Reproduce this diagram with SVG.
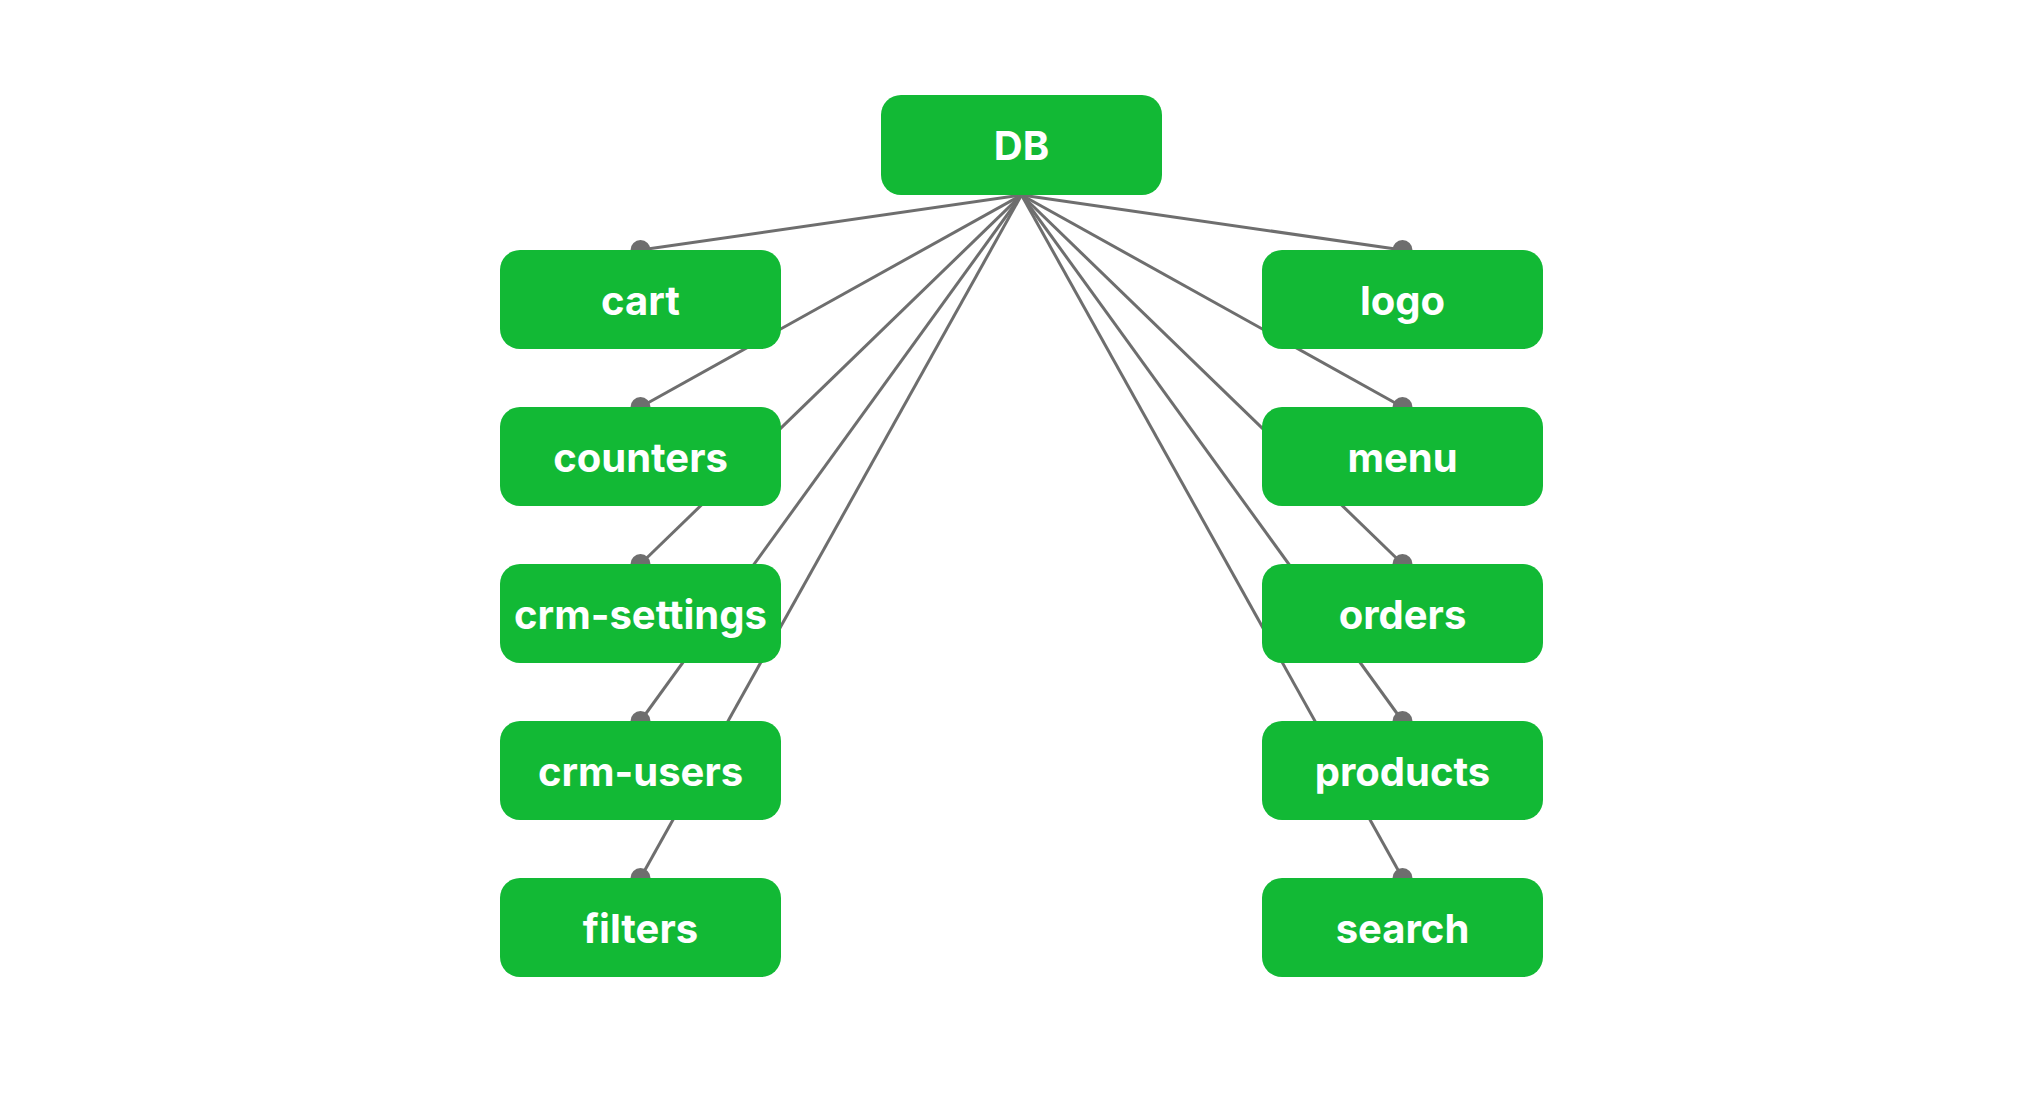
<svg xmlns="http://www.w3.org/2000/svg" width="2043" height="1106" viewBox="0 0 2043 1106">
<style>
.edge{stroke:#6e6e6e;stroke-width:3;fill:none}
.dot{fill:#6e6e6e}
.box{fill:#12b935}
.lbl{fill:#ffffff;font-family:Inter,"Noto Sans","Liberation Sans",sans-serif;font-weight:700;font-size:40px;text-anchor:middle}
</style>
<rect width="2043" height="1106" fill="#ffffff"/>
<g id="connectors">
<line class="edge" x1="1021.5" y1="195" x2="640.5" y2="250"/>
<line class="edge" x1="1021.5" y1="195" x2="640.5" y2="407"/>
<line class="edge" x1="1021.5" y1="195" x2="640.5" y2="564"/>
<line class="edge" x1="1021.5" y1="195" x2="640.5" y2="721"/>
<line class="edge" x1="1021.5" y1="195" x2="640.5" y2="878"/>
<line class="edge" x1="1021.5" y1="195" x2="1402.5" y2="250"/>
<line class="edge" x1="1021.5" y1="195" x2="1402.5" y2="407"/>
<line class="edge" x1="1021.5" y1="195" x2="1402.5" y2="564"/>
<line class="edge" x1="1021.5" y1="195" x2="1402.5" y2="721"/>
<line class="edge" x1="1021.5" y1="195" x2="1402.5" y2="878"/>
<circle class="dot" cx="640.5" cy="250" r="10"/>
<circle class="dot" cx="640.5" cy="407" r="10"/>
<circle class="dot" cx="640.5" cy="564" r="10"/>
<circle class="dot" cx="640.5" cy="721" r="10"/>
<circle class="dot" cx="640.5" cy="878" r="10"/>
<circle class="dot" cx="1402.5" cy="250" r="10"/>
<circle class="dot" cx="1402.5" cy="407" r="10"/>
<circle class="dot" cx="1402.5" cy="564" r="10"/>
<circle class="dot" cx="1402.5" cy="721" r="10"/>
<circle class="dot" cx="1402.5" cy="878" r="10"/>
</g>
<g id="node-db"><rect class="box" x="881" y="95" width="281" height="100" rx="20"/><text class="lbl" x="1021.5" y="160">DB</text></g>
<g id="node-cart"><rect class="box" x="500" y="250" width="281" height="99" rx="20"/><text class="lbl" x="640.5" y="314.5">cart</text></g>
<g id="node-counters"><rect class="box" x="500" y="407" width="281" height="99" rx="20"/><text class="lbl" x="640.5" y="471.5">counters</text></g>
<g id="node-crm-settings"><rect class="box" x="500" y="564" width="281" height="99" rx="20"/><text class="lbl" x="640.5" y="628.5">crm-settings</text></g>
<g id="node-crm-users"><rect class="box" x="500" y="721" width="281" height="99" rx="20"/><text class="lbl" x="640.5" y="785.5">crm-users</text></g>
<g id="node-filters"><rect class="box" x="500" y="878" width="281" height="99" rx="20"/><text class="lbl" x="640.5" y="942.5">filters</text></g>
<g id="node-logo"><rect class="box" x="1262" y="250" width="281" height="99" rx="20"/><text class="lbl" x="1402.5" y="314.5">logo</text></g>
<g id="node-menu"><rect class="box" x="1262" y="407" width="281" height="99" rx="20"/><text class="lbl" x="1402.5" y="471.5">menu</text></g>
<g id="node-orders"><rect class="box" x="1262" y="564" width="281" height="99" rx="20"/><text class="lbl" x="1402.5" y="628.5">orders</text></g>
<g id="node-products"><rect class="box" x="1262" y="721" width="281" height="99" rx="20"/><text class="lbl" x="1402.5" y="785.5">products</text></g>
<g id="node-search"><rect class="box" x="1262" y="878" width="281" height="99" rx="20"/><text class="lbl" x="1402.5" y="942.5">search</text></g>
</svg>
